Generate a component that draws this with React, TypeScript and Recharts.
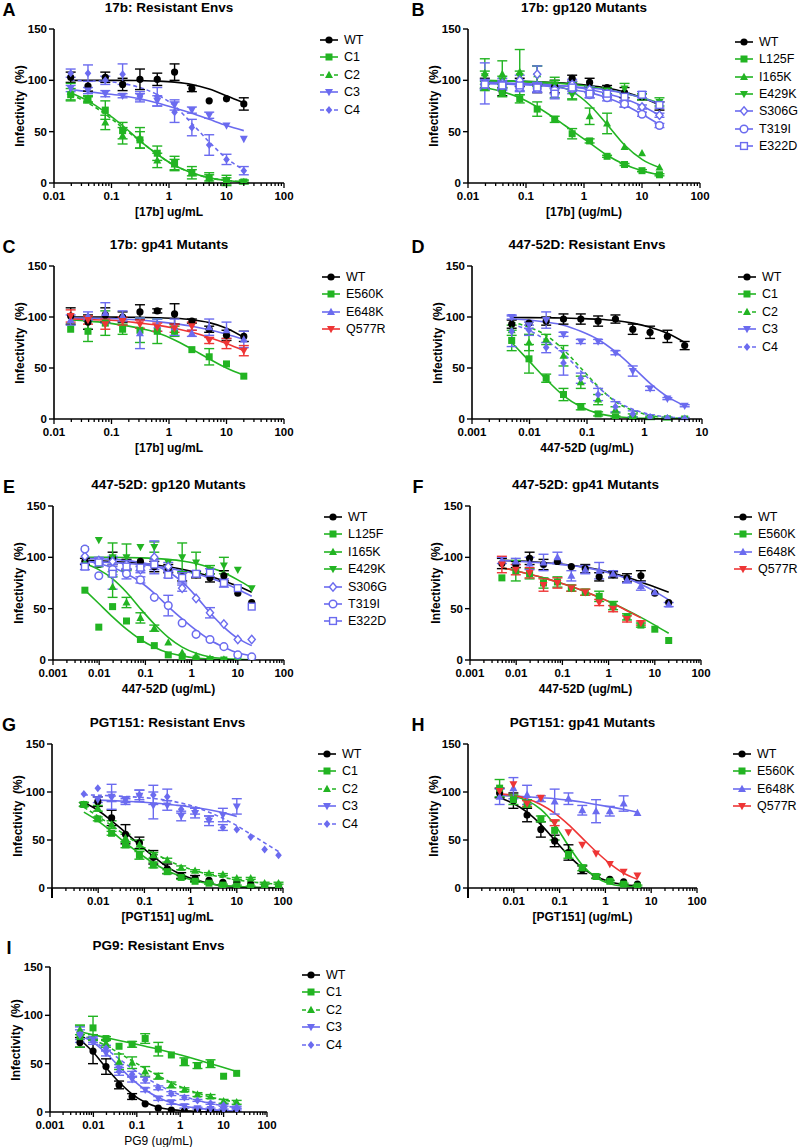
import React from 'react';
import { ComposedChart, Scatter, Line, XAxis, YAxis, ErrorBar } from 'recharts';

const FONT = '"Liberation Sans", Arial, Helvetica, sans-serif';
const GREEN = '#22b422';
const BLUE = '#6b6bef';
const RED = '#ee3535';
const BLACK = '#000000';

// antibody concentrations (ug/mL), two-fold dilution series
const conc17b = [0.0195, 0.039, 0.078, 0.156, 0.3125, 0.625, 1.25, 2.5, 5, 10, 20];
const conc5 = [0.0049, 0.0098, 0.0195, 0.039, 0.078, 0.156, 0.3125, 0.625, 1.25, 2.5, 5];
const conc20 = [0.0049, 0.0098, 0.0195, 0.039, 0.078, 0.156, 0.3125, 0.625, 1.25, 2.5, 5, 10, 20];
const conc80 = [0.0049, 0.0098, 0.0195, 0.039, 0.078, 0.156, 0.3125, 0.625, 1.25, 2.5, 5, 10, 20, 40, 80];

const decades2 = [0.01, 0.1, 1, 10, 100];
const decades3 = [0.001, 0.01, 0.1, 1, 10];
const decades5 = [0.001, 0.01, 0.1, 1, 10, 100];
const labels5NoFirst = [0.01, 0.1, 1, 10, 100];
const yTicks = [0, 50, 100, 150];

type Arr = (number | null)[];

// ---- A: 17b resistant envs
const aMean: Record<string, Arr> = {
  WT: [103, 94.5, 103, 96, 101, 101, 108, 92, 80, 82, 77],
  C1: [86, 81, 71, 51, 42, 29, 19, 10, 5, 2.5, 1],
  C2: [89, 82, 59, 46, 44, 22, 18, 10, 5, 2, 1],
  C3: [92, 90, 87, 85, 84, 80, 76, 71, 66, 56, 43],
  C4: [107, 107, 100, 106, 84, 84, 69, 54, 37, 23, 12],
};
const aSem: Record<string, Arr> = {
  WT: [5, 5, 5, 6, 10, 6, 8, 3, 0, 0, 6],
  C1: [6, 3, 9, 8, 8, 7, 7, 6, 5, 5, 2],
  C2: [8, 3, 7, 8, 10, 7, 5, 3, 3, 3, 1],
  C3: [3, 3, 3, 2, 3, 5, 5, 3, 3, 0, 0],
  C4: [4, 8, 4, 10, 5, 9, 10, 8, 10, 5, 4],
};
const aFit: Record<string, Arr> = {
  WT: [100, 100, 100, 100, 99.7, 99.3, 98.3, 96, 91.5, 85, 78],
  C1: [88, 80, 69, 56, 41, 28, 17, 10, 5, 2.5, 1],
  C2: [86, 78, 67, 54, 41, 28, 17, 10, 5, 2.5, 1],
  C3: [91, 89, 87, 85, 82, 78, 73, 68, 62, 56, 51],
  C4: [100, 99.5, 99, 97, 93, 86, 75, 58, 40, 24, 13],
};

// ---- B: 17b gp120 mutants
const bMean: Record<string, Arr> = {
  WT: [97, 89, 98, 92, 94, 102, 98, 93, 88, 84, 75],
  L125F: [93, 88, 82, 72, 62, 48, 41, 26, 18, 12, 8],
  I165K: [107, 106, 108, 106, 93, 90, 65, 58, 35, 29, 15],
  E429K: [104, 100, 104, 104, 96, 86, 91, 90, 92, 84, 79],
  S306G: [97, 97, 100, 106, 91, 96, 91, 87, 77, 74, 66],
  T319I: [96, 95, 93, 92, 90, 92, 86, 83, 77, 67, 56],
  E322D: [96, 95, 95, 93, 87, 93, 87, 87, 84, 86, 76],
};
const bSem: Record<string, Arr> = {
  WT: [5, 4, 4, 4, 6, 3, 4, 2, 5, 3, 4],
  L125F: [3, 4, 4, 7, 3, 5, 2, 1, 1, 1, 1],
  I165K: [14, 13, 22, 8, 10, 8, 8, 10, 0, 0, 0],
  E429K: [5, 4, 5, 10, 4, 5, 3, 3, 5, 3, 4],
  S306G: [20, 5, 5, 8, 4, 5, 3, 3, 3, 2, 2],
  T319I: [4, 4, 4, 4, 3, 3, 3, 3, 3, 2, 2],
  E322D: [5, 5, 5, 4, 5, 6, 4, 4, 4, 3, 3],
};
const bFit: Record<string, Arr> = {
  WT: [99.5, 99.3, 99, 98.5, 97.8, 96.7, 95, 92.5, 88.5, 83, 76],
  L125F: [93, 89, 83, 74, 63, 51, 39, 27, 18, 12, 8],
  I165K: [100, 99.6, 99, 98, 95, 89, 76, 57, 37, 23, 15],
  E429K: [99.5, 99.2, 99, 98.5, 97.5, 96, 94, 91, 87.5, 83, 78],
  S306G: [98, 97.6, 97, 96.3, 95.2, 93.5, 91, 87, 82, 75, 66],
  T319I: [97, 96.5, 96, 95, 93.5, 91, 88, 83, 76, 67, 57],
  E322D: [97, 96.6, 96.2, 95.7, 95, 94, 92.5, 90.5, 87.5, 83, 77],
};

// ---- C: 17b gp41 mutants
const cMean: Record<string, Arr> = {
  WT: [101, 95, 102, 100, 105, 106, 103, 96, 88, 82, 81],
  E560K: [88, 86, 94, 88, 87, 86, 86, 68, 61, 54, 42],
  E648K: [97, 101, 104, 101, 84, 92, 90, 84, 90, 87, 78],
  Q577R: [101, 97, 93, 96, 93, 90, 89, 91, 77, 74, 67],
};
const cSem: Record<string, Arr> = {
  WT: [8, 7, 7, 5, 7, 2, 10, 2, 3, 5, 5],
  E560K: [0, 10, 12, 5, 12, 12, 5, 0, 8, 0, 0],
  E648K: [5, 4, 10, 5, 15, 6, 8, 3, 8, 8, 8],
  Q577R: [6, 4, 5, 4, 4, 4, 4, 4, 3, 5, 5],
};
const cFit: Record<string, Arr> = {
  WT: [100, 100, 100, 99.8, 99.6, 99.3, 98.7, 97.3, 94.5, 89, 80],
  E560K: [97, 96, 94.5, 92, 89, 84.5, 77.5, 68.5, 59, 50, 43],
  E648K: [99, 98.8, 98.5, 98, 97, 95.5, 93.5, 91, 87.5, 83, 78],
  Q577R: [98, 97.5, 97, 96, 94, 92, 89, 85, 80, 74, 67],
};

// ---- D: 447-52D resistant envs
const dMean: Record<string, Arr> = {
  WT: [93, 94, 96, 98, 98, 96, 98, 88, 85, 81, 72],
  C1: [77, 59, 40, 24, 12, 5, 2, 1, 0.5, 0.2, 0],
  C2: [87, 75, 78, 62, 36, 19, 9, 3, 1, 0.5, 0],
  C3: [100, 92, 97, 83, 76, 76, 65, 47, 30, 20, 13],
  C4: [86, 87, 70, 55, 40, 24, 12, 5, 2, 1, 0.5],
};
const dSem: Record<string, Arr> = {
  WT: [4, 0, 4, 5, 5, 5, 4, 5, 6, 6, 4],
  C1: [10, 14, 4, 6, 3, 2, 1, 1, 1, 1, 0],
  C2: [5, 8, 5, 10, 6, 5, 3, 2, 1, 1, 0],
  C3: [2, 3, 8, 2, 2, 2, 2, 5, 2, 1, 1],
  C4: [15, 5, 5, 12, 5, 6, 5, 3, 2, 1, 1],
};
const dFit: Record<string, Arr> = {
  WT: [99.5, 99.4, 99.2, 99, 98.5, 97.8, 96.5, 94, 90, 84, 75],
  C1: [75, 57, 39, 23, 12, 5.5, 2.5, 1, 0.5, 0.2, 0.1],
  C2: [95, 90, 82, 68, 50, 32, 17, 8.5, 3.5, 1.5, 0.5],
  C3: [98, 97, 95, 92, 86, 78, 66, 51, 35, 22, 13],
  C4: [93, 87, 77, 64, 47, 31, 18, 9.5, 4.5, 2, 1],
};

// ---- E: 447-52D gp120 mutants
const eMean: Record<string, Arr> = {
  WT: [96, 93, 99, 93, 96, 91, 89, 81, 83, 80, 82, 65, 56],
  L125F: [68, 32, 52, 38, 20, 14, 5, 3, 1, 0.5, 0, 0, 0],
  I165K: [95, 93, 71, 56, 41, 31, 17, 7, 4, 1.5, 0.5, 0, 0],
  E429K: [108, 117, 100, 100, 110, 110, 95, 100, 95, 88, 92, 88, 70],
  S306G: [101, 97, 96, 93, 88, 100, 91, 70, 60, 46, 35, 20, 20],
  T319I: [108, 82, 88, 84, 78, 61, 53, 36, 25, 20, 13, 5, 3],
  E322D: [91, 95, 84, 91, 90, 93, 83, 80, 84, 85, 75, 70, 52],
};
const eSem: Record<string, Arr> = {
  WT: [3, 0, 6, 5, 0, 5, 4, 4, 3, 4, 5, 0, 0],
  L125F: [0, 0, 0, 0, 0, 0, 0, 0, 0, 0, 0, 0, 0],
  I165K: [0, 0, 10, 5, 5, 3, 0, 0, 0, 0, 0, 0, 0],
  E429K: [0, 0, 14, 13, 0, 5, 0, 14, 10, 4, 8, 0, 0],
  S306G: [0, 3, 5, 4, 3, 16, 4, 3, 0, 5, 0, 0, 0],
  T319I: [0, 0, 5, 5, 3, 0, 10, 0, 0, 0, 0, 0, 0],
  E322D: [3, 4, 15, 3, 3, 5, 3, 5, 3, 4, 4, 0, 0],
};
const eFit: Record<string, Arr> = {
  WT: [97, 96.6, 96, 95.2, 94.2, 92.8, 90.8, 88.3, 85.2, 81.5, 77, 72, 66],
  L125F: [68, 55, 42, 30, 20, 12.5, 7, 4, 2, 1, 0.5, 0.2, 0.1],
  I165K: [94, 88, 79, 66, 50, 35, 22, 12.5, 6.5, 3, 1.5, 0.7, 0.3],
  E429K: [100, 100, 100, 99.8, 99.5, 99, 98, 96.5, 94, 90, 85, 78, 70],
  S306G: [99, 98.5, 98, 97, 95, 92, 86, 76, 62, 46, 32, 21, 14],
  T319I: [97, 94, 90, 84, 76, 65, 52, 40, 29, 19.5, 12.5, 7, 4],
  E322D: [96, 95.5, 95, 94, 93, 91.5, 89.5, 87, 84, 80, 75, 69, 62],
};

// ---- F: 447-52D gp41 mutants
const fMean: Record<string, Arr> = {
  WT: [94, 93, 99, 93, 96, 91, 89, 81, 83, 80, 82, 65, 56],
  E560K: [80, 87, 84, 75, 76, 70, 66, 62, 53, 42, 34, 30, 19],
  E648K: [97, 96, 94, 95, 100, 82, 88, 87, 84, 78, 72, 66, 54],
  Q577R: [93, 88, 85, 73, 75, 70, 66, 56, 50, 40, 36, null, null],
};
const fSem: Record<string, Arr> = {
  WT: [5, 3, 6, 5, 0, 0, 4, 4, 3, 4, 5, 0, 0],
  E560K: [0, 10, 5, 5, 5, 3, 3, 5, 4, 3, 2, 0, 0],
  E648K: [3, 3, 6, 8, 5, 5, 4, 8, 3, 3, 4, 0, 2],
  Q577R: [8, 5, 5, 6, 5, 3, 3, 3, 3, 3, 2, null, null],
};
const fFit: Record<string, Arr> = {
  WT: [97, 96.6, 96, 95, 93.8, 92.3, 90.3, 87.8, 84.5, 80.5, 76, 71, 66],
  E560K: [90, 87, 83.5, 80, 76, 71.5, 66.5, 61, 55, 48.5, 41.5, 34, 26],
  E648K: [97, 96.2, 95.4, 94.5, 93.4, 92, 90, 87.3, 83.8, 79.3, 73.8, 66.8, 58.5],
  Q577R: [90, 87, 83.5, 80, 76, 71.5, 66.5, 61, 55, 48, 41, null, null],
};

// ---- G: PGT151 resistant envs
const gMean: Record<string, Arr> = {
  WT: [87, 90, 73, 56, 47, 32, 20, 13, 10, 8, 6, 6, 4, 2, 2],
  C1: [87, 72, 57, 45, 34, 24, 17, 11, 7, 5, 3, 2, 1, 1, 0.5],
  C2: [87, 83, 66, 52, 45, 34, 29, 21, 18, 15, 14, 10, 10, 5, 5],
  C3: [null, 92, 95, 92, 96, 86, 86, 75, 78, 70, 76, 85, null, null, null],
  C4: [98, 104, 95, 90, 97, 97, 95, 82, 80, 72, 63, 61, 53, 40, 34],
};
const gSem: Record<string, Arr> = {
  WT: [2, 5, 8, 10, 6, 7, 5, 3, 3, 0, 0, 0, 0, 0, 0],
  C1: [2, 2, 2, 3, 4, 3, 2, 2, 1, 1, 1, 1, 1, 0, 0],
  C2: [2, 3, 4, 4, 5, 3, 2, 2, 1, 1, 1, 1, 1, 1, 1],
  C3: [null, 3, 13, 3, 6, 14, 5, 5, 5, 5, 7, 8, null, null, null],
  C4: [0, 0, 5, 3, 5, 10, 8, 4, 3, 3, 3, 0, 0, 0, 0],
};
const gFit: Record<string, Arr> = {
  WT: [89, 81, 70, 58, 45, 33, 22, 14, 8.5, 5, 2.5, 1.2, 0.6, 0.3, 0.1],
  C1: [79, 70, 59, 47, 36, 26, 18, 12, 7.5, 4.5, 2.5, 1.5, 0.8, 0.4, 0.2],
  C2: [84, 75, 65, 55, 45, 37, 29, 23, 18, 14, 11, 8.5, 6.5, 5, 4],
  C3: [null, 91.5, 91, 90.4, 89.6, 88.6, 87.3, 85.7, 83.8, 81.5, 78.5, 74.5, null, null, null],
  C4: [97, 96.6, 96, 95.4, 94.5, 93.2, 91.3, 88.5, 84.5, 79, 72.5, 65, 56, 47, 38],
};

// ---- H: PGT151 gp41 mutants
const hMean: Record<string, Arr> = {
  WT: [99, 91, 76, 61, 49, 37, 19, 12, 9, 6.5, 4],
  E560K: [104, 92, 88, 72, 60, 35, 21, 12, 7, 4, 2],
  E648K: [95, 104, 97, 93, 90, 93, 81, 80, 80, 88, 78],
  Q577R: [101, 108, 88, 94, 68, 58, 45, 36, 25, 17, 13],
};
const hSem: Record<string, Arr> = {
  WT: [5, 8, 7, 8, 6, 8, 4, 2, 0, 0, 0],
  E560K: [9, 5, 4, 3, 10, 4, 3, 2, 1, 1, 1],
  E648K: [8, 11, 10, 3, 13, 6, 5, 12, 5, 8, 0],
  Q577R: [0, 0, 3, 0, 3, 0, 0, 0, 0, 0, 0],
};
const hFit: Record<string, Arr> = {
  WT: [94, 88, 79, 66, 50, 34, 21, 12, 6.5, 3.5, 2],
  E560K: [97, 95.5, 91, 82, 66, 44, 24, 11, 4.5, 2, 1],
  E648K: [96.5, 96, 95, 94, 93, 91.5, 89.5, 87, 84.5, 82, 79],
  Q577R: [98, 96.5, 93, 87, 78, 66, 52, 38, 25.5, 15.5, 9],
};

// ---- I: PG9 resistant envs
const iMean: Record<string, Arr> = {
  WT: [72, 63, 47, 28, 16, 8.5, 4, 2, 1, 1, 1, 0, 0],
  C1: [78, 87, 76, 68, 70, 76, 65, 59, 52, 48, 50, 37, 40],
  C2: [85, 77, 71, 52, 51, 42, 37, 28, 23, 18, 16, 11, 10],
  C3: [80, 75, 61, 45, 34, 23, 14, 10, 6, 4, 3, 2, 2],
  C4: [80, 73, 66, 42, 39, 33, 25, 19, 15, 12, 9, 7, 5],
};
const iSem: Record<string, Arr> = {
  WT: [5, 13, 8, 4, 3, 0, 0, 0, 0, 0, 0, 0, 0],
  C1: [11, 12, 2, 0, 3, 5, 7, 0, 4, 3, 4, 0, 0],
  C2: [5, 3, 4, 8, 6, 5, 3, 3, 2, 2, 2, 2, 2],
  C3: [8, 3, 3, 4, 3, 2, 2, 2, 2, 1, 1, 1, 1],
  C4: [5, 3, 3, 4, 3, 3, 2, 2, 2, 1, 1, 1, 1],
};
const iFit: Record<string, Arr> = {
  WT: [75, 62, 46, 31, 18.5, 10, 5, 2.5, 1.2, 0.5, 0.2, 0.1, 0],
  C1: [83, 80, 77, 74, 71, 68, 65, 61.5, 58, 54, 50, 46, 42],
  C2: [80, 75, 68.5, 61, 53, 45, 37.5, 30.5, 24.5, 19.5, 15.5, 12.5, 10],
  C3: [79, 72, 61, 47, 34, 23, 15, 9.5, 6, 4, 2.5, 1.5, 1],
  C4: [80, 73, 65, 55, 45, 36, 28, 21.5, 16, 12, 8.8, 6.5, 4.5],
};

type ShapeKind = 'circle' | 'square' | 'triUp' | 'triDown' | 'diamond' | 'openDiamond' | 'openCircle' | 'openSquare';
const seriesStyle: Record<string, { color: string; shape: ShapeKind; dash?: string }> = {
  WT: { color: BLACK, shape: 'circle' },
  C1: { color: GREEN, shape: 'square' },
  C2: { color: GREEN, shape: 'triUp', dash: '4 3' },
  C3: { color: BLUE, shape: 'triDown' },
  C4: { color: BLUE, shape: 'diamond', dash: '4 3' },
  L125F: { color: GREEN, shape: 'square' },
  I165K: { color: GREEN, shape: 'triUp' },
  E429K: { color: GREEN, shape: 'triDown' },
  S306G: { color: BLUE, shape: 'openDiamond' },
  T319I: { color: BLUE, shape: 'openCircle' },
  E322D: { color: BLUE, shape: 'openSquare' },
  E560K: { color: GREEN, shape: 'square' },
  E648K: { color: BLUE, shape: 'triUp' },
  Q577R: { color: RED, shape: 'triDown' },
};

function Marker({ cx, cy, shape, color }: { cx: number; cy: number; shape: ShapeKind; color: string }) {
  if (cx == null || cy == null || isNaN(cx) || isNaN(cy)) return null;
  switch (shape) {
    case 'circle':
      return <circle cx={cx} cy={cy} r={3.6} fill={color} />;
    case 'square':
      return <rect x={cx - 3.5} y={cy - 3.5} width={7} height={7} fill={color} />;
    case 'triUp':
      return <path d={`M${cx},${cy - 4.3}L${cx + 4},${cy + 3}L${cx - 4},${cy + 3}Z`} fill={color} />;
    case 'triDown':
      return <path d={`M${cx},${cy + 4.3}L${cx + 4},${cy - 3}L${cx - 4},${cy - 3}Z`} fill={color} />;
    case 'diamond':
      return <path d={`M${cx},${cy - 4}L${cx + 3.3},${cy}L${cx},${cy + 4}L${cx - 3.3},${cy}Z`} fill={color} />;
    case 'openDiamond':
      return (
        <path d={`M${cx},${cy - 4.2}L${cx + 3.6},${cy}L${cx},${cy + 4.2}L${cx - 3.6},${cy}Z`} fill="#fff" stroke={color} strokeWidth={1.4} />
      );
    case 'openCircle':
      return <circle cx={cx} cy={cy} r={3.8} fill="#fff" stroke={color} strokeWidth={1.5} />;
    case 'openSquare':
      return <rect x={cx - 3.4} y={cy - 3.4} width={6.8} height={6.8} fill="#fff" stroke={color} strokeWidth={1.4} />;
  }
  return null;
}

type Box = { x0: number; x1: number; top: number; bottom: number };
type PanelCfg = {
  letter: string;
  title: string;
  xLabel: string;
  xLabelBold?: boolean;
  conc: number[];
  majors: number[];
  labels: number[];
  order: string[];
  mean: Record<string, Arr>;
  sem: Record<string, Arr>;
  fit: Record<string, Arr>;
  box: Box;
  legend: { x: number; y: number };
  axisTail?: boolean;
};

const panels: PanelCfg[] = [
  {
    letter: 'A', title: '17b: Resistant Envs', xLabel: '[17b] ug/mL', conc: conc17b,
    majors: decades2, labels: decades2, order: ['WT', 'C1', 'C2', 'C3', 'C4'],
    mean: aMean, sem: aSem, fit: aFit, box: { x0: 54, x1: 284, top: 29, bottom: 183 }, legend: { x: 320, y: 40 },
  },
  {
    letter: 'B', title: '17b: gp120 Mutants', xLabel: '[17b] (ug/mL)', conc: conc17b,
    majors: decades2, labels: decades2, order: ['WT', 'L125F', 'I165K', 'E429K', 'S306G', 'T319I', 'E322D'],
    mean: bMean, sem: bSem, fit: bFit, box: { x0: 468, x1: 700, top: 29, bottom: 183 }, legend: { x: 735, y: 41.7 },
  },
  {
    letter: 'C', title: '17b: gp41 Mutants', xLabel: '[17b] ug/mL', conc: conc17b,
    majors: decades2, labels: decades2, order: ['WT', 'E560K', 'E648K', 'Q577R'],
    mean: cMean, sem: cSem, fit: cFit, box: { x0: 54, x1: 284, top: 266, bottom: 419 }, legend: { x: 322, y: 277 },
  },
  {
    letter: 'D', title: '447-52D: Resistant Envs', xLabel: '447-52D (ug/mL)', conc: conc5,
    majors: decades3, labels: decades3, order: ['WT', 'C1', 'C2', 'C3', 'C4'],
    mean: dMean, sem: dSem, fit: dFit, box: { x0: 472, x1: 702, top: 266, bottom: 419 }, legend: { x: 738, y: 277 },
  },
  {
    letter: 'E', title: '447-52D: gp120  Mutants', xLabel: '447-52D (ug/mL)', conc: conc20,
    majors: decades5, labels: decades5, order: ['WT', 'L125F', 'I165K', 'E429K', 'S306G', 'T319I', 'E322D'],
    mean: eMean, sem: eSem, fit: eFit, box: { x0: 53, x1: 284, top: 506, bottom: 660 }, legend: { x: 324, y: 517 },
  },
  {
    letter: 'F', title: '447-52D: gp41  Mutants', xLabel: '447-52D (ug/mL)', conc: conc20,
    majors: decades5, labels: decades5, order: ['WT', 'E560K', 'E648K', 'Q577R'],
    mean: fMean, sem: fSem, fit: fFit, box: { x0: 470, x1: 701, top: 506, bottom: 660 }, legend: { x: 734, y: 517 },
  },
  {
    letter: 'G', title: 'PGT151: Resistant Envs', xLabel: '[PGT151] ug/mL', conc: conc80,
    majors: decades5, labels: labels5NoFirst, order: ['WT', 'C1', 'C2', 'C3', 'C4'],
    mean: gMean, sem: gSem, fit: gFit, box: { x0: 52, x1: 283, top: 744, bottom: 888 }, legend: { x: 318, y: 754 },
    axisTail: true,
  },
  {
    letter: 'H', title: 'PGT151: gp41 Mutants', xLabel: '[PGT151] (ug/mL)', conc: conc5,
    majors: decades5, labels: labels5NoFirst, order: ['WT', 'E560K', 'E648K', 'Q577R'],
    mean: hMean, sem: hSem, fit: hFit, box: { x0: 468, x1: 697, top: 744, bottom: 888 }, legend: { x: 733, y: 754 },
    axisTail: true,
  },
  {
    letter: 'I', title: 'PG9: Resistant Envs', xLabel: 'PG9 (ug/mL)', xLabelBold: false, conc: conc20,
    majors: decades5, labels: decades5, order: ['WT', 'C1', 'C2', 'C3', 'C4'],
    mean: iMean, sem: iSem, fit: iFit, box: { x0: 50, x1: 267, top: 967, bottom: 1112 }, legend: { x: 302, y: 975 },
  },
];

const near = (list: number[], v: number) => list.some((m) => Math.abs(m - v) / m < 1e-6);

function minorTicks(majors: number[]) {
  const out: number[] = [];
  majors.slice(0, -1).forEach((d) => {
    for (let k = 2; k <= 9; k++) out.push(Number((d * k).toPrecision(6)));
  });
  return out;
}

function Txt(props: { x: number; y: number; size: number; bold?: boolean; rotate?: boolean; left?: boolean; children: React.ReactNode }) {
  const { x, y, size, bold, rotate, left, children } = props;
  const tf = left ? 'translateY(-50%)' : rotate ? 'translate(-50%, -50%) rotate(-90deg)' : 'translate(-50%, -50%)';
  return (
    <div
      style={{
        position: 'absolute', left: x, top: y, transform: tf, whiteSpace: 'nowrap',
        fontSize: size, fontWeight: bold ? 'bold' : 'normal', lineHeight: 1, color: '#000', fontFamily: FONT,
      }}
    >
      {children}
    </div>
  );
}

const YW = 50;
const MT = 8;
const MR = 14;
const XH = 32;

function Panel({ cfg }: { cfg: PanelCfg }) {
  const { x0, x1, top, bottom } = cfg.box;
  const w = x1 - x0;
  const h = bottom - top;
  const domain = [cfg.majors[0], cfg.majors[cfg.majors.length - 1]];
  const allTicks = [...cfg.majors, ...minorTicks(cfg.majors)].sort((a, b) => a - b);

  const renderTick = (p: any) => {
    const v = p.payload.value;
    const major = near(cfg.majors, v);
    return (
      <g>
        <line x1={p.x} x2={p.x} y1={p.y} y2={p.y + (major ? 5 : 3)} stroke="#000" strokeWidth={1.3} />
        {near(cfg.labels, v) && (
          <text x={p.x} y={p.y + 17} textAnchor="middle" fontSize={11.5} fontWeight="bold" fontFamily={FONT} fill="#000">
            {String(v)}
          </text>
        )}
      </g>
    );
  };

  const rows = (name: string) =>
    cfg.conc
      .map((x, i) => ({ x, y: cfg.mean[name][i], e: cfg.sem[name][i] }))
      .filter((r) => r.y != null);
  const fitRows = (name: string) =>
    cfg.conc.map((x, i) => ({ x, y: cfg.fit[name][i] })).filter((r) => r.y != null);

  return (
    <>
      <div style={{ position: 'absolute', left: x0 - YW, top: top - MT }}>
        <ComposedChart width={YW + w + MR} height={MT + h + XH} margin={{ top: MT, right: MR, bottom: 0, left: 0 }}>
          <XAxis
            type="number" dataKey="x" scale="log" domain={domain} ticks={allTicks} interval={0}
            tickSize={0} tickMargin={0} tickLine={false} height={XH} allowDataOverflow
            axisLine={{ stroke: '#000', strokeWidth: 1.6 }} tick={renderTick}
          />
          <YAxis
            type="number" domain={[0, 150]} ticks={yTicks} interval={0} width={YW} tickSize={5} tickMargin={2}
            allowDataOverflow axisLine={{ stroke: '#000', strokeWidth: 1.6 }} tickLine={{ stroke: '#000', strokeWidth: 1.4 }}
            tick={{ fill: '#000', fontSize: 11.5, fontWeight: 'bold', fontFamily: FONT }}
          />
          {cfg.order.map((name) => {
            const st = seriesStyle[name];
            return (
              <Line
                key={`fit-${name}`} data={fitRows(name)} dataKey="y" type="monotone" stroke={st.color}
                strokeWidth={1.6} strokeDasharray={st.dash} dot={false} activeDot={false}
                isAnimationActive={false} legendType="none"
              />
            );
          })}
          {cfg.order.map((name) => {
            const st = seriesStyle[name];
            return (
              <Scatter
                key={`pts-${name}`} data={rows(name)} dataKey="y" isAnimationActive={false} legendType="none"
                shape={(p: any) => <Marker cx={p.cx} cy={p.cy} shape={st.shape} color={st.color} />}
              >
                <ErrorBar dataKey="e" direction="y" width={5} stroke={st.color} strokeWidth={1.4} />
              </Scatter>
            );
          })}
        </ComposedChart>
      </div>
      {cfg.axisTail && (
        <div style={{ position: 'absolute', left: x0 - 0.8, top: bottom, width: 1.6, height: 10, background: '#000' }} />
      )}
      <Txt x={(x0 + x1) / 2} y={top - 21} size={13.5} bold>{cfg.title}</Txt>
      <Txt x={x0 < 400 ? 9 : 418} y={top - 19} size={18} bold>{cfg.letter}</Txt>
      <Txt x={x0 - 34} y={(top + bottom) / 2} size={12} bold rotate>Infectivity&nbsp;&nbsp;(%)</Txt>
      <Txt x={(x0 + x1) / 2} y={bottom + 29} size={12} bold={cfg.xLabelBold !== false}>{cfg.xLabel}</Txt>
      {cfg.order.map((name, i) => {
        const st = seriesStyle[name];
        const yc = cfg.legend.y + i * 17.4;
        return (
          <React.Fragment key={`lg-${name}`}>
            <svg style={{ position: 'absolute', left: cfg.legend.x, top: yc - 6 }} width={18} height={12}>
              <line x1={0} y1={6} x2={18} y2={6} stroke={st.color} strokeWidth={1.6} strokeDasharray={st.dash} />
              <Marker cx={9} cy={6} shape={st.shape} color={st.color} />
            </svg>
            <Txt x={cfg.legend.x + 24} y={yc} size={12.5} left>{name}</Txt>
          </React.Fragment>
        );
      })}
    </>
  );
}

export default function App() {
  return (
    <div style={{ position: 'absolute', left: 0, top: 0, width: 800, height: 1147, background: '#fff', fontFamily: FONT, overflow: 'hidden' }}>
      {panels.map((p) => (
        <Panel key={p.letter} cfg={p} />
      ))}
    </div>
  );
}
